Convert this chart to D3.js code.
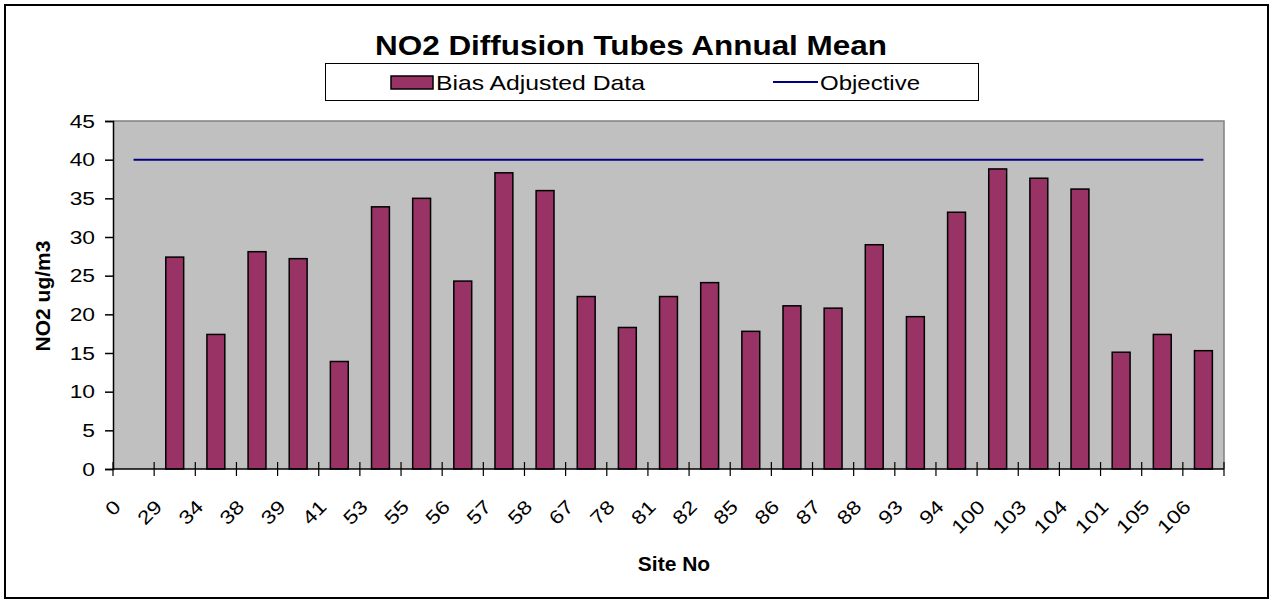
<!DOCTYPE html>
<html>
  <head>
    <meta charset="utf-8">
    <title>NO2 Diffusion Tubes Annual Mean</title>
    <script src="https://d3js.org/d3.v7.min.js"></script>
    <style>
      body { margin: 0; background: #fff; }
      text { font-family: "Liberation Sans", Arial, sans-serif; fill: #000; }
    </style>
  </head>
  <body>
    <svg id="chart" width="1271" height="601"></svg>
    <script>
      // data
      var sites = ["0", "29", "34", "38", "39", "41", "53", "55", "56", "57", "58", "67", "78", "81",
        "82", "85", "86", "87", "88", "93", "94", "100", "103", "104", "101", "105", "106"];
      var biasAdjusted = [null, 27.4, 17.4, 28.1, 27.2, 13.9, 33.9, 35.0, 24.3, 38.3, 36.0, 22.3, 18.3, 22.3,
        24.1, 17.8, 21.1, 20.8, 29.0, 19.7, 33.2, 38.8, 37.6, 36.2, 15.1, 17.4, 15.3];
      var objective = [40, 40, 40, 40, 40, 40, 40, 40, 40, 40, 40, 40, 40, 40,
        40, 40, 40, 40, 40, 40, 40, 40, 40, 40, 40, 40, 40];
      var yTicks = [0, 5, 10, 15, 20, 25, 30, 35, 40, 45];

      var svg = d3.select("#chart");
      var plot = { left: 113, right: 1224, top: 121, bottom: 469 };

      // excel draws its text wider than the font would, so stretch it along the baseline
      function widen(sel, k) {
        sel.each(function() {
          var w = this.getComputedTextLength();
          d3.select(this)
            .attr("textLength", w * k)
            .attr("lengthAdjust", "spacingAndGlyphs");
        });
      }

      // outer frame
      svg.append("rect")
        .attr("x", 5).attr("y", 5)
        .attr("width", 1263).attr("height", 593)
        .attr("fill", "#fff")
        .attr("stroke", "#000")
        .attr("stroke-width", 2);

      x = d3.scaleBand()
        .domain(sites)
        .range([plot.left, plot.right]);
      y = d3.scaleLinear()
        .domain([0, 45])
        .range([plot.bottom, plot.top]);

      // plot area
      svg.append("rect")
        .attr("x", plot.left).attr("y", plot.top)
        .attr("width", plot.right - plot.left)
        .attr("height", plot.bottom - plot.top)
        .attr("fill", "#c0c0c0");
      svg.append("path")
        .attr("d", "M" + plot.left + "," + plot.top + "H" + plot.right + "V" + plot.bottom)
        .attr("fill", "none")
        .attr("stroke", "#808080")
        .attr("stroke-width", 1.5);

      // bars (gap width 130%)
      var barWidth = x.bandwidth() / 2.3;
      svg.append("g")
        .selectAll("rect")
          .data(sites.map(function(d, i) { return { site: d, value: biasAdjusted[i] }; })
            .filter(function(d) { return d.value !== null; }))
        .enter().append("rect")
          .attr("x", function(d) { return x(d.site) + (x.bandwidth() - barWidth) / 2; })
          .attr("y", function(d) { return y(d.value); })
          .attr("width", barWidth)
          .attr("height", function(d) { return y(0) - y(d.value); })
          .attr("fill", "#993366")
          .attr("stroke", "#000")
          .attr("stroke-width", 1.5);

      // objective line
      var line = d3.line()
        .x(function(d, i) { return x(sites[i]) + x.bandwidth() / 2; })
        .y(function(d) { return y(d); });
      svg.append("path")
        .datum(objective)
        .attr("d", line)
        .attr("fill", "none")
        .attr("stroke", "#000080")
        .attr("stroke-width", 2);

      // y axis
      var yAxis = d3.axisLeft(y)
        .tickValues(yTicks)
        .tickSize(8)
        .tickPadding(10);
      var yGroup = svg.append("g")
        .attr("transform", "translate(" + plot.left + ",0)")
        .call(yAxis);
      yGroup.select(".domain").attr("stroke", "#000").attr("stroke-width", 1.5);
      yGroup.selectAll("line").attr("stroke", "#000").attr("stroke-width", 1.5);
      yGroup.selectAll("text")
        .style("font-family", "Liberation Sans, Arial, sans-serif")
        .style("font-size", "19px")
        .attr("fill", "#000")
        .call(widen, 1.2);

      // x axis: ticks on band edges, crossing the axis
      svg.append("line")
        .attr("x1", plot.left).attr("x2", plot.right)
        .attr("y1", plot.bottom).attr("y2", plot.bottom)
        .attr("stroke", "#000").attr("stroke-width", 1.5);
      var edges = sites.map(function(d) { return x(d); }).concat([plot.right]);
      svg.append("g")
        .selectAll("line")
          .data(edges)
        .enter().append("line")
          .attr("x1", function(d) { return d; }).attr("x2", function(d) { return d; })
          .attr("y1", plot.bottom - 7).attr("y2", plot.bottom + 7)
          .attr("stroke", "#000").attr("stroke-width", 1.2);
      svg.append("g")
        .selectAll("text")
          .data(sites)
        .enter().append("text")
          .attr("transform", function(d) {
            return "translate(" + (x(d) + x.bandwidth() / 2 - 11.5) + "," + 508 + ") rotate(-45)";
          })
          .attr("text-anchor", "end")
          .style("font-size", "19px")
          .text(function(d) { return d; })
          .call(widen, 1.2);

      // titles
      svg.append("text")
        .attr("x", 631).attr("y", 55)
        .attr("text-anchor", "middle")
        .style("font-size", "27px")
        .style("font-weight", "bold")
        .attr("textLength", 512)
        .attr("lengthAdjust", "spacingAndGlyphs")
        .text("NO2 Diffusion Tubes Annual Mean");
      svg.append("text")
        .attr("transform", "translate(50,296) rotate(-90)")
        .attr("text-anchor", "middle")
        .style("font-size", "21px")
        .style("font-weight", "bold")
        .text("NO2 ug/m3");
      svg.append("text")
        .attr("x", 674).attr("y", 571)
        .attr("text-anchor", "middle")
        .style("font-size", "21px")
        .style("font-weight", "bold")
        .text("Site No");

      // legend
      var legend = svg.append("g");
      legend.append("rect")
        .attr("x", 325.5).attr("y", 63.5)
        .attr("width", 653).attr("height", 37)
        .attr("fill", "#fff")
        .attr("stroke", "#000");
      legend.append("rect")
        .attr("x", 391).attr("y", 76)
        .attr("width", 42).attr("height", 13)
        .attr("fill", "#993366")
        .attr("stroke", "#000")
        .attr("stroke-width", 1.5);
      legend.append("text")
        .attr("x", 436).attr("y", 90)
        .style("font-size", "21px")
        .attr("textLength", 209)
        .attr("lengthAdjust", "spacingAndGlyphs")
        .text("Bias Adjusted Data");
      legend.append("line")
        .attr("x1", 773).attr("x2", 818)
        .attr("y1", 82).attr("y2", 82)
        .attr("stroke", "#000080")
        .attr("stroke-width", 2);
      legend.append("text")
        .attr("x", 820).attr("y", 90)
        .style("font-size", "21px")
        .attr("textLength", 100)
        .attr("lengthAdjust", "spacingAndGlyphs")
        .text("Objective");
    </script>
  </body>
</html>
